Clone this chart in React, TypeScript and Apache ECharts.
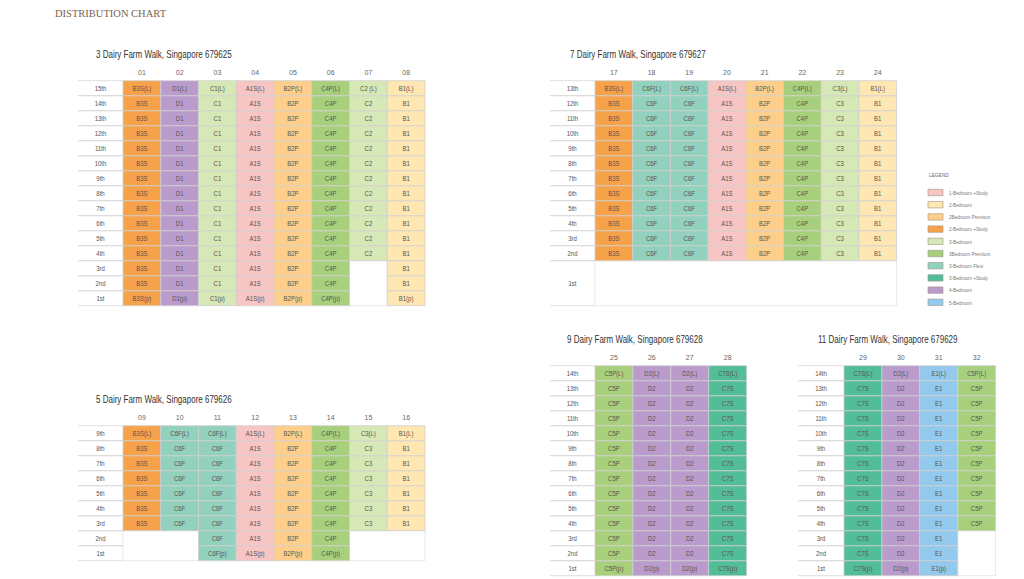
import React, { useEffect, useRef } from 'react';
import * as echarts from 'echarts';

const FONT = '"Liberation Sans", Arial, sans-serif';
const NARROW = 0.8;

// ---------- Legend ----------
const legendTitle = 'LEGEND';
const legendLabels = [
  '1-Bedroom +Study',
  '2-Bedroom',
  '2Bedroom Premium',
  '2-Bedroom +Study',
  '3-Bedroom',
  '3Bedroom Premium',
  '3-Bedroom Flexi',
  '3-Bedroom +Study',
  '4-Bedroom',
  '5-Bedroom',
];
const legendColors = [
  '#F7C5C4', '#FEE7B3', '#FDCF8B', '#F6A24B', '#D6E8B5',
  '#A8D07C', '#92D1BD', '#52BD99', '#B99BCC', '#92C9EC',
];
const legendCodes = [
  ['A1S'], ['B1'], ['B2P'], ['B3S'], ['C1', 'C2', 'C3'],
  ['C4P', 'C5P'], ['C6F'], ['C7S'], ['D1', 'D2'], ['E1'],
];

// ---------- Table 1 : 3 Dairy Farm Walk ----------
const t1Title = '3 Dairy Farm Walk, Singapore 679625';
const t1Units = ['01', '02', '03', '04', '05', '06', '07', '08'];
const t1Types = ['B3S', 'D1', 'C1', 'A1S', 'B2P', 'C4P', 'C2', 'B1'];
const t1TopLabels = ['B3S(L)', 'D1(L)', 'C1(L)', 'A1S(L)', 'B2P(L)', 'C4P(L)', 'C2 (L)', 'B1(L)'];
const t1Lowest = [1, 1, 1, 1, 1, 1, 4, 1];
const t1Floors = ['15th', '14th', '13th', '12th', '11th', '10th', '9th', '8th', '7th', '6th', '5th', '4th', '3rd', '2nd', '1st'];
const t1Blanks = [[6, 6, 1, 3]];

// ---------- Table 2 : 7 Dairy Farm Walk ----------
const t2Title = '7 Dairy Farm Walk, Singapore 679627';
const t2Units = ['17', '18', '19', '20', '21', '22', '23', '24'];
const t2Types = ['B3S', 'C6F', 'C6F', 'A1S', 'B2P', 'C4P', 'C3', 'B1'];
const t2TopLabels = ['B3S(L)', 'C6F(L)', 'C6F(L)', 'A1S(L)', 'B2P(L)', 'C4P(L)', 'C3(L)', 'B1(L)'];
const t2Lowest = [2, 2, 2, 2, 2, 2, 2, 2];
const t2Floors = ['13th', '12th', '11th', '10th', '9th', '8th', '7th', '6th', '5th', '4th', '3rd', '2nd', '1st'];
const t2Blanks = [[0, 7, 1, 1]];

// ---------- Table 3 : 5 Dairy Farm Walk ----------
const t3Title = '5 Dairy Farm Walk, Singapore 679626';
const t3Units = ['09', '10', '11', '12', '13', '14', '15', '16'];
const t3Types = ['B3S', 'C6F', 'C6F', 'A1S', 'B2P', 'C4P', 'C3', 'B1'];
const t3TopLabels = ['B3S(L)', 'C6F(L)', 'C6F(L)', 'A1S(L)', 'B2P(L)', 'C4P(L)', 'C3(L)', 'B1(L)'];
const t3Lowest = [3, 3, 1, 1, 1, 1, 3, 3];
const t3Floors = ['9th', '8th', '7th', '6th', '5th', '4th', '3rd', '2nd', '1st'];
const t3Blanks = [[0, 1, 1, 2], [6, 7, 1, 2]];

// ---------- Table 4 : 9 Dairy Farm Walk ----------
const t4Title = '9 Dairy Farm Walk, Singapore 679628';
const t4Units = ['25', '26', '27', '28'];
const t4Types = ['C5P', 'D2', 'D2', 'C7S'];
const t4TopLabels = ['C5P(L)', 'D2(L)', 'D2(L)', 'C7S(L)'];
const t4Lowest = [1, 1, 1, 1];
const t4Floors = ['14th', '13th', '12th', '11th', '10th', '9th', '8th', '7th', '6th', '5th', '4th', '3rd', '2nd', '1st'];
const t4Blanks: number[][] = [];

// ---------- Table 5 : 11 Dairy Farm Walk ----------
const t5Title = '11 Dairy Farm Walk, Singapore 679629';
const t5Units = ['29', '30', '31', '32'];
const t5Types = ['C7S', 'D2', 'E1', 'C5P'];
const t5TopLabels = ['C7S(L)', 'D2(L)', 'E1(L)', 'C5P(L)'];
const t5Lowest = [1, 1, 1, 4];
const t5Floors = ['14th', '13th', '12th', '11th', '10th', '9th', '8th', '7th', '6th', '5th', '4th', '3rd', '2nd', '1st'];
const t5Blanks = [[3, 3, 1, 3]];

const mainTitle = 'DISTRIBUTION CHART';

// ---------- layout ----------
const ROW_H = 15;
const tables = [
  { title: t1Title, units: t1Units, types: t1Types, topLabels: t1TopLabels, lowest: t1Lowest, floors: t1Floors, blanks: t1Blanks,
    left: 123, top: 80.7, cellW: 37.75, labelW: 45, titleX: 96, titleY: 55, tall: {} as Record<string, number> },
  { title: t2Title, units: t2Units, types: t2Types, topLabels: t2TopLabels, lowest: t2Lowest, floors: t2Floors, blanks: t2Blanks,
    left: 595, top: 80.7, cellW: 37.7, labelW: 45, titleX: 570, titleY: 55, tall: { '1st': 3 } as Record<string, number> },
  { title: t3Title, units: t3Units, types: t3Types, topLabels: t3TopLabels, lowest: t3Lowest, floors: t3Floors, blanks: t3Blanks,
    left: 123, top: 425.7, cellW: 37.75, labelW: 45, titleX: 96, titleY: 400, tall: {} as Record<string, number> },
  { title: t4Title, units: t4Units, types: t4Types, topLabels: t4TopLabels, lowest: t4Lowest, floors: t4Floors, blanks: t4Blanks,
    left: 595, top: 365.7, cellW: 37.9, labelW: 45, titleX: 567, titleY: 340, tall: {} as Record<string, number> },
  { title: t5Title, units: t5Units, types: t5Types, topLabels: t5TopLabels, lowest: t5Lowest, floors: t5Floors, blanks: t5Blanks,
    left: 844, top: 365.7, cellW: 37.9, labelW: 46, titleX: 818, titleY: 340, tall: {} as Record<string, number> },
];

function colorOf(code: string) {
  const i = legendCodes.findIndex((g) => g.includes(code));
  return i >= 0 ? legendColors[i] : '#ffffff';
}

function narrowText(text: string, x: number, y: number, fontSize: number, fill: string, align = 'center') {
  return {
    type: 'text', x, y, scaleX: NARROW, scaleY: 1,
    style: { text, x: 0, y: 0, align, verticalAlign: 'middle', fontSize, fontFamily: FONT, fill },
  };
}

function buildOption() {
  const grids: any[] = [];
  const xAxes: any[] = [];
  const yAxes: any[] = [];
  const series: any[] = [];
  const graphics: any[] = [];

  graphics.push({
    type: 'text', x: 55, y: 13.7,
    style: { text: mainTitle, x: 0, y: 0, fontSize: 10.5, verticalAlign: 'middle', fontFamily: '"Liberation Serif", "DejaVu Serif", serif', fill: '#7d5f52' },
  });

  tables.forEach((t, gi) => {
    const nRows = t.floors.length;
    const spans = t.floors.map((f) => t.tall[f] ?? 1);
    const starts: number[] = [];
    let acc = 0;
    spans.forEach((s) => { starts.push(acc); acc += s; });
    const total = acc;
    const rowOf = (n: number) => nRows - n;

    grids.push({ left: t.left, top: t.top, width: t.cellW * t.units.length, height: total * ROW_H, containLabel: false });
    xAxes.push({
      type: 'category', gridIndex: gi, position: 'top', data: t.units, boundaryGap: true,
      axisLine: { show: false }, axisTick: { show: false }, splitLine: { show: false },
      axisLabel: { fontSize: 7, color: '#666', margin: 5, fontFamily: FONT },
    });
    yAxes.push({ type: 'value', gridIndex: gi, min: 0, max: total, inverse: true, show: false });

    const items: any[] = [];
    t.blanks.forEach(([c0, c1, f0, f1]) => {
      const iTop = rowOf(f1);
      const iBot = rowOf(f0);
      items.push({ v: [c0, c1, starts[iTop], starts[iBot] + spans[iBot]], text: '', color: '#ffffff', stroke: '#e3e3e3' });
    });
    t.types.forEach((code, c) => {
      for (let n = t.lowest[c]; n <= nRows; n++) {
        const i = rowOf(n);
        const text = n === nRows ? t.topLabels[c] : n === 1 ? code + '(p)' : code;
        items.push({ v: [c, c, starts[i], starts[i] + spans[i]], text, color: colorOf(code), stroke: '#cfcfcf' });
      }
    });

    series.push({
      type: 'custom', xAxisIndex: gi, yAxisIndex: gi, clip: false,
      encode: { x: [0, 1], y: [2, 3] },
      data: items.map((d) => d.v),
      renderItem: (params: any, api: any) => {
        const it = items[params.dataIndex];
        const a = api.coord([api.value(0), api.value(2)]);
        const b = api.coord([api.value(1), api.value(3)]);
        const bw = api.size([1, 0])[0];
        const x = a[0] - bw / 2;
        const y = a[1];
        const w = b[0] - a[0] + bw;
        const h = b[1] - a[1];
        const children: any[] = [
          { type: 'rect', shape: { x, y, width: w, height: h }, style: { fill: it.color, stroke: it.stroke, lineWidth: 0.8 } },
        ];
        if (it.text) children.push(narrowText(it.text, x + w / 2, y + h / 2, 7.5, '#5a5450'));
        return { type: 'group', children };
      },
    });

    const rowItems = t.floors.map((f, i) => ({ v: [0, starts[i], starts[i] + spans[i]], text: f }));
    series.push({
      type: 'custom', xAxisIndex: gi, yAxisIndex: gi, clip: false,
      encode: { x: 0, y: [1, 2] },
      data: rowItems.map((d) => d.v),
      renderItem: (params: any, api: any) => {
        const it = rowItems[params.dataIndex];
        const a = api.coord([0, api.value(1)]);
        const b = api.coord([0, api.value(2)]);
        const bw = api.size([1, 0])[0];
        const gx = a[0] - bw / 2;
        const lx = gx - t.labelW;
        return {
          type: 'group',
          children: [
            { type: 'line', shape: { x1: lx, y1: a[1], x2: gx, y2: a[1] }, style: { stroke: '#d6d6d6', lineWidth: 0.8 } },
            { type: 'line', shape: { x1: lx, y1: b[1], x2: gx, y2: b[1] }, style: { stroke: '#d6d6d6', lineWidth: 0.8 } },
            narrowText(it.text, lx + t.labelW / 2, (a[1] + b[1]) / 2, 7.5, '#555'),
          ],
        };
      },
    });

    graphics.push(narrowText(t.title, t.titleX, t.titleY, 10, '#333', 'left'));
  });

  // legend drawn from legend arrays
  graphics.push(narrowText(legendTitle, 929, 175, 6, '#666', 'left'));
  legendLabels.forEach((lab, i) => {
    const cy = 192.5 + i * 12.2;
    graphics.push({
      type: 'rect', shape: { x: 928, y: cy - 3.2, width: 15, height: 6.4 },
      style: { fill: legendColors[i], stroke: '#a09386', lineWidth: 0.6 },
    });
    graphics.push(narrowText(lab, 949, cy, 5.8, '#777', 'left'));
  });

  return {
    animation: false,
    backgroundColor: '#ffffff',
    grid: grids,
    xAxis: xAxes,
    yAxis: yAxes,
    series,
    graphic: graphics,
  };
}

export default function App() {
  const ref = useRef<HTMLDivElement>(null);
  useEffect(() => {
    if (!ref.current) return;
    const chart = echarts.init(ref.current, undefined, { renderer: 'svg' });
    chart.setOption(buildOption() as any);
    return () => chart.dispose();
  }, []);
  return <div ref={ref} style={{ position: 'fixed', left: 0, top: 0, width: 1024, height: 579 }} />;
}
